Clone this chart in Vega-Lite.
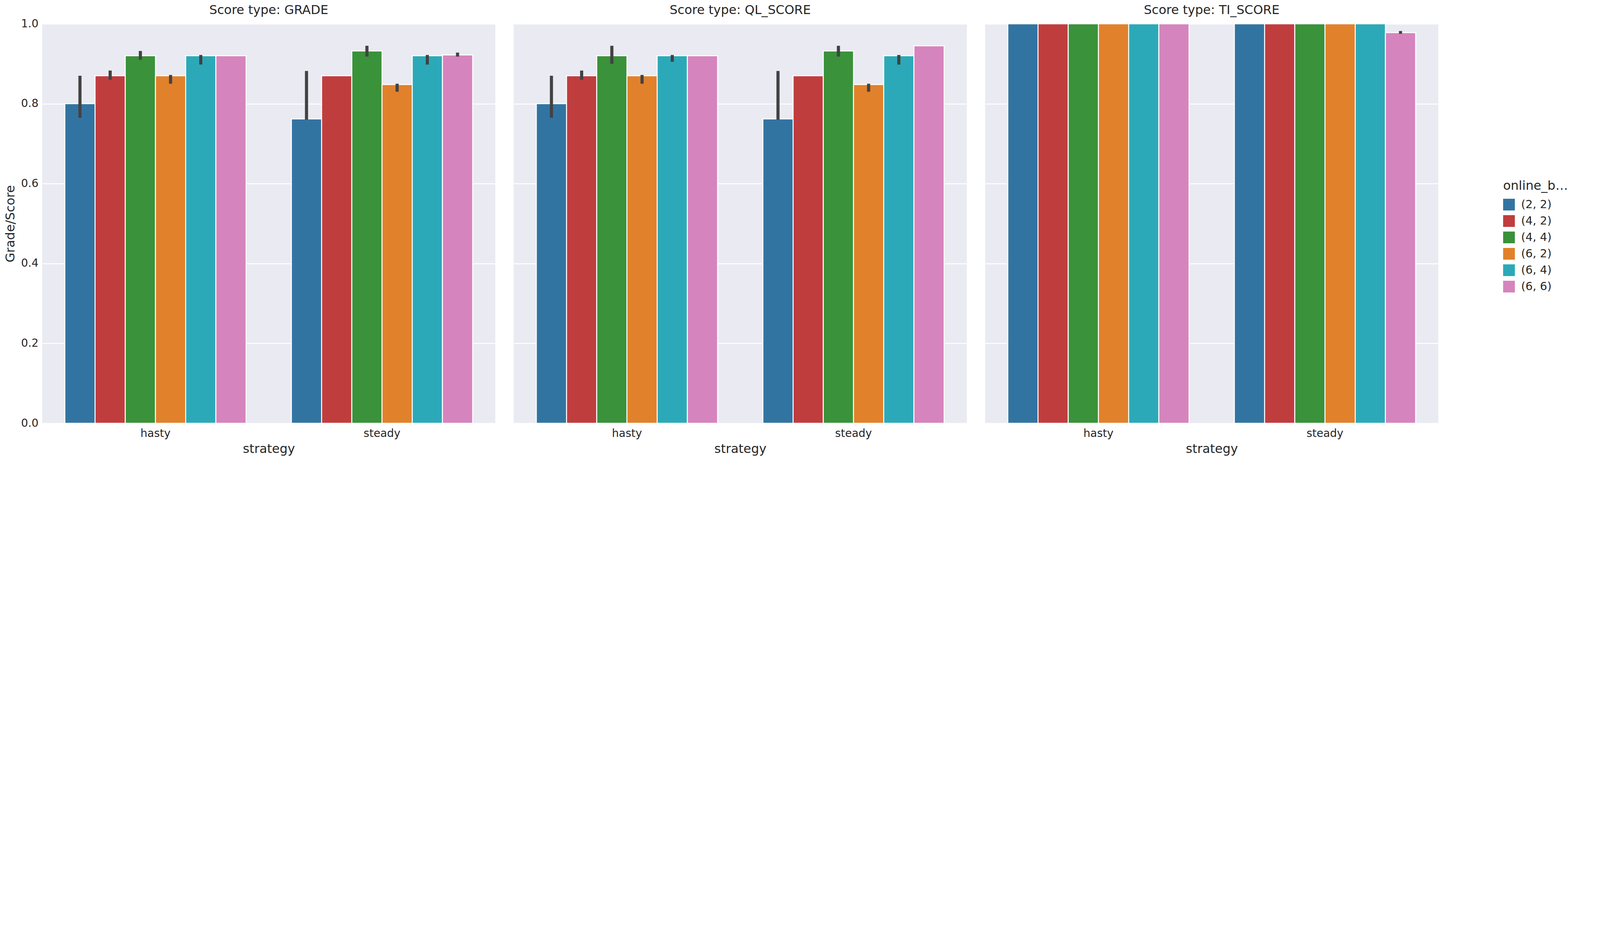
{
  "$schema": "https://vega.github.io/schema/vega-lite/v6.json",
  "background": "white",
  "padding": {"left": 10, "top": 10, "right": 5, "bottom": 5},
  "data": {
    "values": [
      {"score": "GRADE", "strategy": "hasty", "bounds": "(2, 2)", "value": 0.80, "lo": 0.765, "hi": 0.87},
      {"score": "GRADE", "strategy": "hasty", "bounds": "(4, 2)", "value": 0.87, "lo": 0.86, "hi": 0.883},
      {"score": "GRADE", "strategy": "hasty", "bounds": "(4, 4)", "value": 0.92, "lo": 0.91, "hi": 0.932},
      {"score": "GRADE", "strategy": "hasty", "bounds": "(6, 2)", "value": 0.87, "lo": 0.85, "hi": 0.872},
      {"score": "GRADE", "strategy": "hasty", "bounds": "(6, 4)", "value": 0.92, "lo": 0.898, "hi": 0.922},
      {"score": "GRADE", "strategy": "hasty", "bounds": "(6, 6)", "value": 0.92, "lo": null, "hi": null},
      {"score": "GRADE", "strategy": "steady", "bounds": "(2, 2)", "value": 0.762, "lo": 0.76, "hi": 0.882},
      {"score": "GRADE", "strategy": "steady", "bounds": "(4, 2)", "value": 0.87, "lo": null, "hi": null},
      {"score": "GRADE", "strategy": "steady", "bounds": "(4, 4)", "value": 0.932, "lo": 0.918, "hi": 0.945},
      {"score": "GRADE", "strategy": "steady", "bounds": "(6, 2)", "value": 0.848, "lo": 0.83, "hi": 0.85},
      {"score": "GRADE", "strategy": "steady", "bounds": "(6, 4)", "value": 0.92, "lo": 0.898, "hi": 0.922},
      {"score": "GRADE", "strategy": "steady", "bounds": "(6, 6)", "value": 0.922, "lo": 0.918, "hi": 0.928},
      {"score": "QL_SCORE", "strategy": "hasty", "bounds": "(2, 2)", "value": 0.80, "lo": 0.765, "hi": 0.87},
      {"score": "QL_SCORE", "strategy": "hasty", "bounds": "(4, 2)", "value": 0.87, "lo": 0.86, "hi": 0.883},
      {"score": "QL_SCORE", "strategy": "hasty", "bounds": "(4, 4)", "value": 0.92, "lo": 0.9, "hi": 0.945},
      {"score": "QL_SCORE", "strategy": "hasty", "bounds": "(6, 2)", "value": 0.87, "lo": 0.85, "hi": 0.872},
      {"score": "QL_SCORE", "strategy": "hasty", "bounds": "(6, 4)", "value": 0.92, "lo": 0.905, "hi": 0.922},
      {"score": "QL_SCORE", "strategy": "hasty", "bounds": "(6, 6)", "value": 0.92, "lo": null, "hi": null},
      {"score": "QL_SCORE", "strategy": "steady", "bounds": "(2, 2)", "value": 0.762, "lo": 0.76, "hi": 0.882},
      {"score": "QL_SCORE", "strategy": "steady", "bounds": "(4, 2)", "value": 0.87, "lo": null, "hi": null},
      {"score": "QL_SCORE", "strategy": "steady", "bounds": "(4, 4)", "value": 0.932, "lo": 0.918, "hi": 0.945},
      {"score": "QL_SCORE", "strategy": "steady", "bounds": "(6, 2)", "value": 0.848, "lo": 0.83, "hi": 0.85},
      {"score": "QL_SCORE", "strategy": "steady", "bounds": "(6, 4)", "value": 0.92, "lo": 0.898, "hi": 0.922},
      {"score": "QL_SCORE", "strategy": "steady", "bounds": "(6, 6)", "value": 0.945, "lo": null, "hi": null},
      {"score": "TI_SCORE", "strategy": "hasty", "bounds": "(2, 2)", "value": 1.0, "lo": null, "hi": null},
      {"score": "TI_SCORE", "strategy": "hasty", "bounds": "(4, 2)", "value": 1.0, "lo": null, "hi": null},
      {"score": "TI_SCORE", "strategy": "hasty", "bounds": "(4, 4)", "value": 1.0, "lo": null, "hi": null},
      {"score": "TI_SCORE", "strategy": "hasty", "bounds": "(6, 2)", "value": 1.0, "lo": null, "hi": null},
      {"score": "TI_SCORE", "strategy": "hasty", "bounds": "(6, 4)", "value": 1.0, "lo": null, "hi": null},
      {"score": "TI_SCORE", "strategy": "hasty", "bounds": "(6, 6)", "value": 1.0, "lo": null, "hi": null},
      {"score": "TI_SCORE", "strategy": "steady", "bounds": "(2, 2)", "value": 1.0, "lo": null, "hi": null},
      {"score": "TI_SCORE", "strategy": "steady", "bounds": "(4, 2)", "value": 1.0, "lo": null, "hi": null},
      {"score": "TI_SCORE", "strategy": "steady", "bounds": "(4, 4)", "value": 1.0, "lo": null, "hi": null},
      {"score": "TI_SCORE", "strategy": "steady", "bounds": "(6, 2)", "value": 1.0, "lo": null, "hi": null},
      {"score": "TI_SCORE", "strategy": "steady", "bounds": "(6, 4)", "value": 1.0, "lo": null, "hi": null},
      {"score": "TI_SCORE", "strategy": "steady", "bounds": "(6, 6)", "value": 0.978, "lo": 0.975, "hi": 0.982}
    ]
  },
  "facet": {
    "column": {
      "field": "score",
      "type": "nominal",
      "title": null,
      "header": {
        "labelExpr": "'Score type: ' + datum.value",
        "labelFontSize": 32,
        "labelFont": "DejaVu Sans",
        "labelColor": "#262626",
        "labelPadding": 16
      }
    }
  },
  "spacing": 47,
  "spec": {
    "width": 1160,
    "height": 1023,
    "layer": [
      {
        "mark": {"type": "bar", "stroke": "white", "strokeWidth": 2.5},
        "encoding": {
          "x": {"field": "strategy", "type": "nominal", "title": "strategy",
                "scale": {"paddingInner": 0.2, "paddingOuter": 0.1}},
          "xOffset": {"field": "bounds", "type": "nominal"},
          "y": {"field": "value", "type": "quantitative", "title": "Grade/Score",
                "scale": {"domain": [0, 1]}, "axis": {"values": [0, 0.2, 0.4, 0.6, 0.8, 1.0], "format": ".1f"}},
          "color": {
            "field": "bounds", "type": "nominal", "title": "online_bounds",
            "scale": {"range": ["#3274a1", "#c03d3e", "#3a923a", "#e1812c", "#2ca9b8", "#d684bd"]}
          }
        }
      },
      {
        "transform": [{"filter": "isValid(datum.lo)"}],
        "mark": {"type": "rule", "color": "#424242", "strokeWidth": 8},
        "encoding": {
          "x": {"field": "strategy", "type": "nominal", "bandPosition": 0.5},
          "xOffset": {"field": "bounds", "type": "nominal"},
          "y": {"field": "lo", "type": "quantitative"},
          "y2": {"field": "hi"}
        }
      }
    ]
  },
  "config": {
    "font": "DejaVu Sans",
    "view": {"fill": "#eaeaf2", "stroke": null},
    "axis": {
      "labelFontSize": 28,
      "titleFontSize": 32,
      "labelColor": "#262626",
      "titleColor": "#262626",
      "titleFontWeight": "normal",
      "domain": false,
      "ticks": false,
      "labelPadding": 10,
      "titlePadding": 10,
      "grid": true,
      "gridColor": "white",
      "gridWidth": 2.5
    },
    "axisX": {"labelAngle": 0, "grid": false},
    "legend": {
      "orient": "none",
      "legendX": 3740,
      "legendY": 400,
      "titleFontSize": 32,
      "titleFontWeight": "normal",
      "labelFontSize": 29,
      "titleColor": "#262626",
      "labelColor": "#262626",
      "symbolType": "square",
      "symbolSize": 900,
      "symbolStrokeWidth": 0,
      "rowPadding": 12,
      "labelOffset": 16,
      "titlePadding": 16
    }
  }
}
